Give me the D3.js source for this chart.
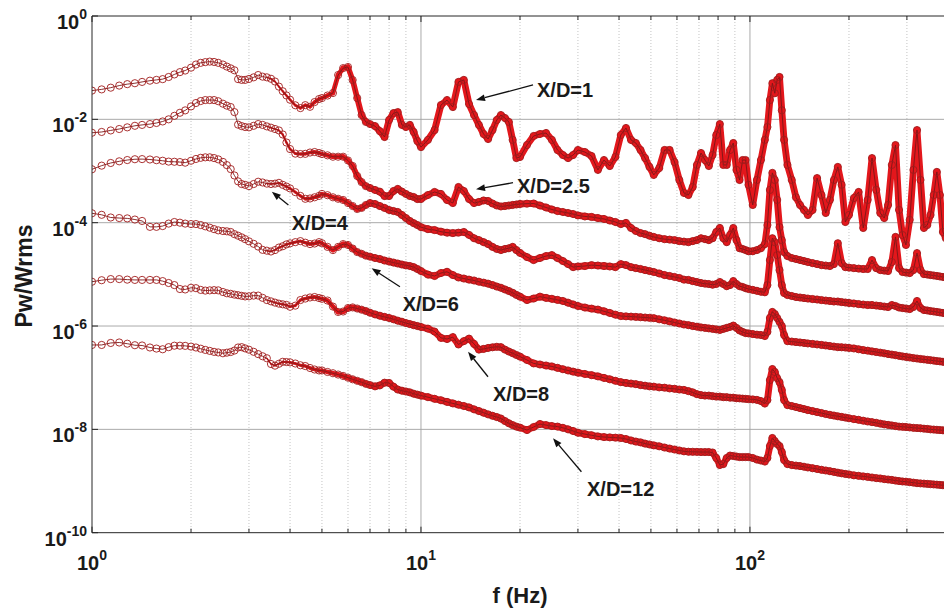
<!DOCTYPE html>
<html><head><meta charset="utf-8">
<script src="https://cdn.jsdelivr.net/npm/d3@7"></script>
<style>
body{margin:0;background:#fff}
svg{display:block}
text{font-family:"Liberation Sans",Arial,Helvetica,sans-serif;font-weight:bold;fill:#1a1a1a}
</style>
</head><body>
<svg id="chart" width="944" height="610"></svg>
<script>
// ---------------- data ----------------
const freq = [
1.00,1.07,1.14,1.21,1.28,1.35,1.42,1.50,1.57,1.64,1.71,1.78,1.85,1.92,2.00,2.07,2.14,2.21,2.28,2.35,2.42,2.50,2.57,2.64,2.71,2.78,2.85,2.92,3.00,
3.1,3.2,3.3,3.4,3.5,3.6,3.7,3.8,3.9,4.0,4.15,4.3,4.45,4.6,4.75,4.9,
5.0,5.2,5.4,5.6,5.8,6.0,6.2,6.4,6.6,6.8,7.0,7.25,7.5,7.75,8.0,8.25,8.5,8.75,9.0,9.25,9.5,9.75,
10,10.5,11,11.5,12,12.5,13,13.5,14,14.5,15,15.5,16,16.5,17,17.5,18,18.5,19,19.5,
20,21,22,23,24,25,26,27,28,29,30,31.5,33,34.5,36,37.5,39,40.5,42,43.5,45,46.5,48,49.5,
51,53,55,57,59,61,63,65,67,69,71,73,75,77,79,81,83,85,87,89,91,93,95,97,99,
102,105,108,111,113,115,117,119,121,123,125,127,130,134,138,142,146,150,155,160,165,170,175,180,185,190,195,
200,207,214,221,228,235,242,249,256,263,270,277,284,291,298,306,314,322,330,338,346,354,362,370,378,386,394];

const s1 = [
3.6e-2,3.8e-2,4.1e-2,4.5e-2,4.8e-2,5.0e-2,5.3e-2,5.6e-2,5.8e-2,6.0e-2,6.6e-2,7.4e-2,8.2e-2,8.8e-2,1.0e-1,1.15e-1,1.24e-1,1.28e-1,1.31e-1,1.29e-1,1.24e-1,1.15e-1,1.05e-1,9.7e-2,8.9e-2,6.0e-2,5.8e-2,5.8e-2,6.05e-2,
6.5e-2,7.2e-2,6.7e-2,6.5e-2,6.1e-2,5.4e-2,4.3e-2,3.5e-2,2.9e-2,2.4e-2,1.87e-2,1.65e-2,1.88e-2,1.75e-2,2.16e-2,2.47e-2,
2.58e-2,2.89e-2,3.23e-2,7.2e-2,9.8e-2,1.03e-1,5.76e-2,2.58e-2,1.21e-2,8.9e-3,8.1e-3,7.4e-3,5.9e-3,4.55e-3,9.7e-3,1.32e-2,1.38e-2,7.8e-3,7.1e-3,7.8e-3,5.7e-3,3.8e-3,
2.9e-3,4.0e-3,6.2e-3,1.89e-2,2.36e-2,1.73e-2,5.3e-2,5.8e-2,1.98e-2,1.21e-2,7.8e-3,5.2e-3,4.16e-3,6.2e-3,9.7e-3,1.21e-2,1.06e-2,8.9e-3,4.0e-3,1.78e-3,
1.87e-3,3.18e-3,4.76e-3,5.2e-3,5.44e-3,4.0e-3,2.55e-3,2.04e-3,1.78e-3,2.04e-3,2.55e-3,2.33e-3,1.95e-3,1.05e-3,1.63e-3,1.25e-3,1.87e-3,4.97e-3,6.8e-3,4.0e-3,3.48e-3,2.55e-3,1.78e-3,1.2e-3,
8.4e-4,1.14e-3,2.55e-3,2.55e-3,1.49e-3,6.7e-4,3.76e-4,3.43e-4,4.9e-4,1.31e-3,2.23e-3,1.63e-3,1.25e-3,2.04e-3,4.97e-3,8.1e-3,1.31e-3,1.31e-3,2.55e-3,3.48e-3,1.05e-3,6.7e-4,1.63e-3,1.63e-3,5.4e-4,
2.2e-4,6.7e-4,1.63e-3,4.0e-3,7.1e-3,2.36e-2,5.0e-2,3.2e-2,5.8e-2,6.6e-2,1.5e-2,4.0e-3,1.31e-3,6.7e-4,3.1e-4,2.2e-4,1.76e-4,1.41e-4,1.76e-4,7.3e-4,3.43e-4,1.54e-4,2.75e-4,6.7e-4,1.2e-3,5.4e-4,1.03e-4,
1.41e-4,3.0e-4,3.93e-4,7.9e-5,2.75e-4,1.78e-3,4.3e-4,1.54e-4,1.23e-4,2.2e-4,1.31e-3,3.18e-3,1.76e-4,5.76e-5,3.7e-5,1.13e-4,1.05e-3,6.2e-3,6.7e-4,7.9e-5,9.0e-5,1.41e-4,3.43e-4,9.6e-4,3.43e-4,6.6e-5,5.0e-5];

const s25 = [
5.5e-3,5.7e-3,6.1e-3,6.5e-3,7.0e-3,7.5e-3,7.8e-3,8.1e-3,8.5e-3,9.1e-3,1.0e-2,1.17e-2,1.34e-2,1.49e-2,1.78e-2,2.07e-2,2.26e-2,2.36e-2,2.36e-2,2.36e-2,2.24e-2,2.01e-2,1.84e-2,1.73e-2,1.38e-2,7.9e-3,7.4e-3,7.1e-3,7.0e-3,
7.5e-3,8.1e-3,7.8e-3,7.3e-3,6.9e-3,6.5e-3,6.1e-3,5.1e-3,3.56e-3,2.66e-3,2.17e-3,2.13e-3,2.15e-3,2.28e-3,2.33e-3,2.23e-3,
2.13e-3,2.01e-3,1.89e-3,1.89e-3,1.89e-3,1.6e-3,1.25e-3,8.0e-4,6.1e-4,5.1e-4,4.7e-4,4.3e-4,3.98e-4,3.28e-4,3.28e-4,4.1e-4,4.5e-4,4.0e-4,3.6e-4,3.28e-4,3.14e-4,2.87e-4,
2.87e-4,3.43e-4,3.93e-4,3.6e-4,2.75e-4,2.4e-4,4.9e-4,4.1e-4,2.87e-4,2.4e-4,2.52e-4,2.69e-4,2.63e-4,2.35e-4,2.15e-4,2.06e-4,2.1e-4,2.15e-4,2.2e-4,2.25e-4,
2.3e-4,2.33e-4,2.35e-4,2.15e-4,1.97e-4,1.8e-4,1.68e-4,1.61e-4,1.54e-4,1.47e-4,1.38e-4,1.32e-4,1.29e-4,1.23e-4,1.18e-4,1.1e-4,1.03e-4,9.4e-5,9.9e-5,7.9e-5,6.9e-5,6.3e-5,6.0e-5,5.6e-5,
5.3e-5,5.0e-5,4.8e-5,4.7e-5,4.6e-5,4.4e-5,4.3e-5,4.2e-5,4.4e-5,4.6e-5,5.0e-5,4.8e-5,4.6e-5,5.0e-5,6.6e-5,7.9e-5,5.0e-5,4.2e-5,5.8e-5,7.9e-5,4.6e-5,3.2e-5,3.1e-5,2.95e-5,2.8e-5,
2.8e-5,2.95e-5,3.2e-5,3.85e-5,9.0e-5,4.3e-4,9.2e-4,6.7e-4,2.75e-4,8.2e-5,4.6e-5,2.7e-5,2.26e-5,2.07e-5,1.98e-5,1.89e-5,1.81e-5,1.73e-5,1.65e-5,1.58e-5,1.51e-5,1.48e-5,1.45e-5,1.58e-5,4.0e-5,1.65e-5,1.38e-5,
1.35e-5,1.32e-5,1.29e-5,1.27e-5,1.27e-5,1.89e-5,1.32e-5,1.21e-5,1.18e-5,1.16e-5,1.73e-5,5.3e-5,1.32e-5,1.11e-5,1.08e-5,1.06e-5,1.21e-5,2.58e-5,1.21e-5,1.01e-5,9.9e-6,9.7e-6,9.5e-6,9.3e-6,9.1e-6,8.9e-6,8.7e-6];

const s4 = [
1.08e-3,1.27e-3,1.43e-3,1.54e-3,1.63e-3,1.69e-3,1.7e-3,1.67e-3,1.62e-3,1.58e-3,1.52e-3,1.51e-3,1.49e-3,1.45e-3,1.58e-3,1.71e-3,1.8e-3,1.84e-3,1.84e-3,1.78e-3,1.68e-3,1.5e-3,1.3e-3,1.09e-3,8.2e-4,6.3e-4,5.6e-4,5.4e-4,5.1e-4,
5.6e-4,6.2e-4,6.0e-4,5.7e-4,5.6e-4,5.7e-4,5.9e-4,5.4e-4,5.0e-4,4.6e-4,3.9e-4,3.3e-4,2.9e-4,2.94e-4,3.1e-4,3.3e-4,
3.6e-4,3.4e-4,3.1e-4,2.9e-4,2.75e-4,2.4e-4,2.1e-4,1.84e-4,1.93e-4,2.2e-4,2.4e-4,2.3e-4,2.1e-4,1.93e-4,1.76e-4,1.68e-4,1.61e-4,1.41e-4,1.23e-4,1.08e-4,9.8e-5,9.0e-5,
8.2e-5,7.5e-5,7.2e-5,6.7e-5,6.4e-5,6.3e-5,6.4e-5,6.6e-5,5.8e-5,5.0e-5,4.6e-5,4.2e-5,3.85e-5,3.4e-5,3.1e-5,2.95e-5,3.1e-5,3.2e-5,3.4e-5,2.95e-5,
2.6e-5,2.16e-5,1.89e-5,2.07e-5,2.26e-5,2.36e-5,2.07e-5,1.81e-5,1.58e-5,1.38e-5,1.42e-5,1.45e-5,1.51e-5,1.48e-5,1.45e-5,1.42e-5,1.38e-5,1.58e-5,1.51e-5,1.38e-5,1.32e-5,1.27e-5,1.21e-5,1.16e-5,
1.11e-5,1.04e-5,9.7e-6,9.3e-6,8.9e-6,8.5e-6,7.9e-6,7.8e-6,7.4e-6,7.1e-6,6.8e-6,6.6e-6,6.5e-6,6.3e-6,6.5e-6,7.1e-6,6.5e-6,5.9e-6,6.2e-6,7.4e-6,6.5e-6,5.9e-6,5.7e-6,5.4e-6,5.2e-6,
5.0e-6,4.8e-6,4.6e-6,4.5e-6,6.2e-6,1.89e-5,5.0e-5,4.2e-5,2.36e-5,1.21e-5,6.2e-6,4.35e-6,3.98e-6,3.81e-6,3.64e-6,3.56e-6,3.48e-6,3.4e-6,3.33e-6,3.26e-6,3.18e-6,3.11e-6,3.05e-6,2.98e-6,2.98e-6,2.91e-6,2.85e-6,
2.79e-6,2.73e-6,2.66e-6,2.6e-6,2.55e-6,2.55e-6,2.49e-6,2.44e-6,2.38e-6,2.33e-6,2.55e-6,2.44e-6,2.28e-6,2.23e-6,2.18e-6,2.13e-6,2.33e-6,3.05e-6,2.23e-6,2.04e-6,2.0e-6,1.95e-6,1.91e-6,1.87e-6,1.83e-6,1.79e-6,1.75e-6];

const s6 = [
1.52e-4,1.42e-4,1.26e-4,1.23e-4,1.21e-4,1.15e-4,1.08e-4,8.3e-5,8.3e-5,8.6e-5,9.6e-5,1.03e-4,1.0e-4,9.6e-5,9.4e-5,9.4e-5,9.0e-5,8.5e-5,8.0e-5,7.5e-5,7.1e-5,6.9e-5,6.8e-5,6.6e-5,6.0e-5,5.6e-5,5.2e-5,4.8e-5,4.35e-5,
3.9e-5,3.45e-5,2.98e-5,2.87e-5,2.77e-5,2.95e-5,3.3e-5,3.5e-5,3.8e-5,3.98e-5,4.2e-5,4.4e-5,4.1e-5,3.85e-5,3.95e-5,4.2e-5,
4.0e-5,3.4e-5,2.95e-5,3.4e-5,3.85e-5,3.7e-5,3.16e-5,2.7e-5,2.5e-5,2.3e-5,2.2e-5,2.07e-5,1.98e-5,1.85e-5,1.77e-5,1.69e-5,1.62e-5,1.55e-5,1.49e-5,1.45e-5,1.38e-5,1.27e-5,
1.16e-5,9.9e-6,9.3e-6,1.06e-5,1.12e-5,9.7e-6,8.7e-6,8.3e-6,7.9e-6,7.6e-6,7.2e-6,6.9e-6,6.6e-6,6.2e-6,5.8e-6,5.5e-6,5.1e-6,4.76e-6,4.4e-6,4.0e-6,
3.7e-6,3.18e-6,3.4e-6,3.7e-6,3.5e-6,3.36e-6,3.2e-6,3.05e-6,2.83e-6,2.62e-6,2.44e-6,2.28e-6,2.17e-6,2.08e-6,1.93e-6,1.79e-6,1.66e-6,1.56e-6,1.54e-6,1.52e-6,1.5e-6,1.48e-6,1.46e-6,1.44e-6,
1.42e-6,1.35e-6,1.29e-6,1.23e-6,1.17e-6,1.12e-6,1.07e-6,1.04e-6,1.0e-6,9.7e-7,9.4e-7,9.2e-7,9.0e-7,8.8e-7,8.6e-7,8.4e-7,8.8e-7,9.2e-7,9.6e-7,1.02e-6,9.2e-7,8.2e-7,7.7e-7,7.3e-7,7.2e-7,
7.0e-7,6.8e-7,6.7e-7,6.4e-7,7.7e-7,1.43e-6,1.87e-6,1.71e-6,1.43e-6,1.2e-6,1.0e-6,6.7e-7,5.1e-7,5.0e-7,4.9e-7,4.8e-7,4.7e-7,4.6e-7,4.5e-7,4.4e-7,4.3e-7,4.2e-7,4.1e-7,4.0e-7,3.9e-7,3.88e-7,3.83e-7,
3.76e-7,3.68e-7,3.55e-7,3.43e-7,3.33e-7,3.23e-7,3.14e-7,3.05e-7,2.97e-7,2.87e-7,2.8e-7,2.73e-7,2.65e-7,2.58e-7,2.52e-7,2.46e-7,2.4e-7,2.35e-7,2.3e-7,2.26e-7,2.22e-7,2.18e-7,2.14e-7,2.1e-7,2.07e-7,2.03e-7,2.0e-7];

const s8 = [
7.2e-6,7.7e-6,8.1e-6,8.1e-6,7.9e-6,7.8e-6,7.8e-6,7.8e-6,7.8e-6,7.4e-6,6.8e-6,6.2e-6,5.2e-6,5.1e-6,5.5e-6,5.4e-6,5.0e-6,4.85e-6,4.9e-6,4.95e-6,4.9e-6,4.55e-6,4.3e-6,4.2e-6,4.05e-6,3.95e-6,3.84e-6,3.74e-6,3.76e-6,
3.88e-6,3.88e-6,3.51e-6,3.18e-6,3.0e-6,2.84e-6,2.71e-6,2.63e-6,2.56e-6,2.36e-6,2.48e-6,3.18e-6,3.4e-6,3.57e-6,3.64e-6,3.48e-6,
3.36e-6,3.11e-6,2.38e-6,1.87e-6,1.91e-6,2.23e-6,2.29e-6,2.18e-6,2.07e-6,1.95e-6,1.81e-6,1.68e-6,1.58e-6,1.5e-6,1.43e-6,1.35e-6,1.27e-6,1.21e-6,1.14e-6,1.09e-6,1.04e-6,1.0e-6,
9.6e-7,8.9e-7,7.8e-7,5.9e-7,5.6e-7,6.1e-7,4.4e-7,5.1e-7,5.7e-7,4.5e-7,3.5e-7,3.6e-7,3.76e-7,3.88e-7,3.96e-7,3.9e-7,3.5e-7,3.21e-7,2.98e-7,2.75e-7,
2.56e-7,2.2e-7,1.89e-7,1.8e-7,1.72e-7,1.65e-7,1.55e-7,1.46e-7,1.38e-7,1.31e-7,1.25e-7,1.18e-7,1.12e-7,1.06e-7,9.9e-8,9.3e-8,8.7e-8,8.2e-8,7.9e-8,7.7e-8,7.5e-8,7.2e-8,7.0e-8,6.8e-8,
6.7e-8,6.5e-8,6.4e-8,6.2e-8,6.1e-8,5.9e-8,5.8e-8,5.5e-8,5.2e-8,4.8e-8,4.6e-8,4.5e-8,4.5e-8,4.4e-8,4.3e-8,4.3e-8,4.2e-8,4.2e-8,4.1e-8,4.1e-8,4.0e-8,3.98e-8,3.93e-8,3.89e-8,3.85e-8,
3.8e-8,3.72e-8,3.53e-8,3.16e-8,3.69e-8,9.0e-8,1.47e-7,1.29e-7,9.8e-8,8.2e-8,5.8e-8,3.69e-8,2.95e-8,2.83e-8,2.7e-8,2.58e-8,2.47e-8,2.36e-8,2.26e-8,2.16e-8,2.07e-8,1.98e-8,1.91e-8,1.85e-8,1.79e-8,1.74e-8,1.69e-8,
1.64e-8,1.58e-8,1.53e-8,1.47e-8,1.42e-8,1.38e-8,1.34e-8,1.29e-8,1.25e-8,1.22e-8,1.19e-8,1.16e-8,1.13e-8,1.12e-8,1.11e-8,1.09e-8,1.07e-8,1.06e-8,1.05e-8,1.03e-8,1.02e-8,1.0e-8,9.9e-9,9.8e-9,9.7e-9,9.6e-9,9.4e-9];

const s12 = [
4.3e-7,4.3e-7,4.7e-7,4.8e-7,4.55e-7,4.25e-7,4.2e-7,3.84e-7,3.66e-7,3.55e-7,3.9e-7,4.16e-7,4.16e-7,4.13e-7,4.0e-7,3.84e-7,3.64e-7,3.45e-7,3.3e-7,3.16e-7,3.08e-7,2.97e-7,3.05e-7,3.14e-7,3.35e-7,3.84e-7,3.9e-7,3.69e-7,3.48e-7,
3.17e-7,2.86e-7,2.6e-7,2.38e-7,1.84e-7,1.71e-7,1.86e-7,2.03e-7,2.01e-7,1.98e-7,1.88e-7,1.74e-7,1.68e-7,1.54e-7,1.44e-7,1.38e-7,
1.38e-7,1.29e-7,1.22e-7,1.15e-7,1.08e-7,1.0e-7,9.3e-8,8.7e-8,8.2e-8,7.6e-8,7.2e-8,6.8e-8,7.1e-8,8.0e-8,7.9e-8,6.7e-8,5.9e-8,5.6e-8,5.4e-8,5.2e-8,4.9e-8,4.7e-8,
4.5e-8,4.2e-8,3.9e-8,3.66e-8,3.4e-8,3.18e-8,3.0e-8,2.83e-8,2.66e-8,2.44e-8,2.26e-8,2.1e-8,1.95e-8,1.83e-8,1.73e-8,1.62e-8,1.45e-8,1.31e-8,1.21e-8,1.13e-8,
1.08e-8,9.7e-9,1.11e-8,1.27e-8,1.21e-8,1.16e-8,1.13e-8,1.07e-8,1.0e-8,9.3e-9,8.6e-9,8.1e-9,7.7e-9,7.3e-9,7.1e-9,7.0e-9,6.9e-9,6.8e-9,6.5e-9,6.1e-9,5.8e-9,5.6e-9,5.3e-9,5.1e-9,
4.9e-9,4.7e-9,4.45e-9,4.25e-9,4.07e-9,3.9e-9,3.76e-9,3.69e-9,3.68e-9,3.66e-9,3.64e-9,3.64e-9,3.64e-9,3.56e-9,2.79e-9,2.04e-9,2.13e-9,2.79e-9,3.11e-9,3.05e-9,2.98e-9,2.91e-9,2.91e-9,2.91e-9,2.91e-9,
2.79e-9,2.6e-9,2.49e-9,2.38e-9,2.79e-9,4.76e-9,6.8e-9,5.94e-9,5.2e-9,4.76e-9,3.64e-9,2.55e-9,2.13e-9,2.04e-9,1.99e-9,1.95e-9,1.89e-9,1.83e-9,1.77e-9,1.71e-9,1.65e-9,1.6e-9,1.55e-9,1.5e-9,1.45e-9,1.41e-9,1.37e-9,
1.34e-9,1.29e-9,1.26e-9,1.23e-9,1.2e-9,1.17e-9,1.14e-9,1.12e-9,1.09e-9,1.07e-9,1.05e-9,1.02e-9,1.0e-9,9.8e-10,9.7e-10,9.5e-10,9.3e-10,9.1e-10,9.0e-10,8.9e-10,8.8e-10,8.7e-10,8.6e-10,8.5e-10,8.4e-10,8.3e-10,8.2e-10];

const seriesNames  = ["X/D=1","X/D=2.5","X/D=4","X/D=6","X/D=8","X/D=12"];
const seriesValues = [s1, s25, s4, s6, s8, s12];

const xTickValues = [1, 10, 100];
const xTickExps   = ["0", "1", "2"];
const yTickValues = [1, 1e-2, 1e-4, 1e-6, 1e-8, 1e-10];
const yTickExps   = ["0", "-2", "-4", "-6", "-8", "-10"];

// arrow tips in data units (frequency, Pw/Wrms)
const annoLabels = ["X/D=1","X/D=2.5","X/D=4","X/D=6","X/D=8","X/D=12"];
const annoTipF   = [14.7, 14.7, 3.52, 7.08, 13.9, 25.2];
const annoTipV   = [2.37e-2, 4.43e-4, 3.98e-4, 1.31e-5, 3.18e-7, 6.71e-9];

// ---------------- layout ----------------
const L = 92, T = 16, R = 948, B = 532.7;
const annoTail  = [[57,-15],[37,-6.6],[16.6,13.3],[28.3,18.4],[20,25],[28.4,33.4]];
const annoText  = [[61,-3],[41,4],[20,38],[31,43],[25,49],[34,58]];

const svg = d3.select("#chart");
const x = d3.scaleLog().domain([1, 400]).range([L, R]);
const y = d3.scaleLog().domain([1e-10, 1]).range([B, T]);

svg.append("defs").append("clipPath").attr("id","plotclip")
  .append("rect").attr("x",L).attr("y",T).attr("width",R-L).attr("height",B-T);

// grid
const minorX = [];
[1,10,100].forEach(d => { for (let k=2;k<=9;k++){ const v=k*d; if (v<=400) minorX.push(v);} });
const gGrid = svg.append("g");
gGrid.selectAll("line.mx").data(minorX).join("line")
  .attr("x1",d=>x(d)).attr("x2",d=>x(d)).attr("y1",T).attr("y2",B)
  .attr("stroke","#b5b5b5").attr("stroke-width",0.8).attr("stroke-dasharray","1,2");
gGrid.selectAll("line.Mx").data([10,100]).join("line")
  .attr("x1",d=>x(d)).attr("x2",d=>x(d)).attr("y1",T).attr("y2",B)
  .attr("stroke","#a0a0a0").attr("stroke-width",0.9);
gGrid.selectAll("line.My").data([1e-2,1e-4,1e-6,1e-8]).join("line")
  .attr("x1",L).attr("x2",R).attr("y1",d=>y(d)).attr("y2",d=>y(d))
  .attr("stroke","#a0a0a0").attr("stroke-width",0.9);

// band width grows where the FFT samples crowd together on the log axis
function bandWidth(f){
  const lo = Math.log10(3.4), hi = Math.log10(7.5), lf = Math.log10(f);
  if (lf <= lo) return 0;
  const t = Math.min(1, (lf-lo)/(hi-lo));
  return 1.2 + t*5.6;
}

// series
const gData = svg.append("g").attr("clip-path","url(#plotclip)");
const line = d3.line().x(d=>x(d.f)).y(d=>y(d.v));
seriesValues.forEach((vals, si) => {
  const n = Math.min(freq.length, vals.length);
  const pts = [];
  for (let i=0;i<n;i++) pts.push({f:freq[i], v:vals[i]});
  const g = gData.append("g").attr("class","series").attr("data-name",seriesNames[si]);
  const segs = d3.pairs(pts).filter(p => bandWidth(p[1].f) > 0);
  g.selectAll("line.band").data(segs).join("line").attr("class","band")
    .attr("x1",p=>x(p[0].f)).attr("y1",p=>y(p[0].v))
    .attr("x2",p=>x(p[1].f)).attr("y2",p=>y(p[1].v))
    .attr("stroke","#e3171c").attr("stroke-linecap","round")
    .attr("stroke-width",p=>bandWidth(p[1].f));
  g.append("path").attr("d", line(pts)).attr("fill","none")
    .attr("stroke","#7a1717").attr("stroke-width",0.9);
  g.selectAll("circle").data(pts).join("circle")
    .attr("cx",d=>x(d.f)).attr("cy",d=>y(d.v)).attr("r",3.6)
    .attr("fill","none").attr("stroke","#a01c1c").attr("stroke-width",0.9);
});

// frame
const gAx = svg.append("g").attr("stroke","#262626").attr("stroke-width",1);
gAx.append("line").attr("x1",L).attr("x2",L).attr("y1",T).attr("y2",B);
gAx.append("line").attr("x1",L).attr("x2",R).attr("y1",B).attr("y2",B);
gAx.append("line").attr("x1",L).attr("x2",R).attr("y1",T).attr("y2",T);
// ticks
const allX = minorX.concat([1,10,100]);
allX.forEach(v => {
  const len = [1,10,100].includes(v) ? 6 : 4;
  gAx.append("line").attr("x1",x(v)).attr("x2",x(v)).attr("y1",B).attr("y2",B-len);
  gAx.append("line").attr("x1",x(v)).attr("x2",x(v)).attr("y1",T).attr("y2",T+len);
});
yTickValues.forEach(v => {
  gAx.append("line").attr("x1",L).attr("x2",L+6).attr("y1",y(v)).attr("y2",y(v));
});

// tick labels
yTickValues.forEach((v,i) => {
  const t = svg.append("text").attr("x",87).attr("y",y(v)+13).attr("text-anchor","end").attr("font-size",20);
  t.append("tspan").text("10");
  t.append("tspan").attr("dy",-10).attr("font-size",14).text(yTickExps[i]);
});
xTickValues.forEach((v,i) => {
  const t = svg.append("text").attr("x",x(v)).attr("y",570).attr("text-anchor","middle").attr("font-size",20);
  t.append("tspan").text("10");
  t.append("tspan").attr("dy",-10).attr("font-size",14).text(xTickExps[i]);
});

// axis titles
svg.append("text").attr("x",520).attr("y",603).attr("text-anchor","middle").attr("font-size",22).text("f (Hz)");
svg.append("text").attr("transform","translate(32,276) rotate(-90)").attr("text-anchor","middle")
  .attr("font-size",23).text("Pw/Wrms");

// annotations
const gAn = svg.append("g");
annoLabels.forEach((lab,i) => {
  const tx = x(annoTipF[i]), ty = y(annoTipV[i]);
  const sx = tx + annoTail[i][0], sy = ty + annoTail[i][1];
  const ang = Math.atan2(ty-sy, tx-sx);
  const hl = 9, hw = 3.4;
  const bx = tx - hl*Math.cos(ang), by = ty - hl*Math.sin(ang);
  gAn.append("line").attr("x1",sx).attr("y1",sy).attr("x2",bx).attr("y2",by)
    .attr("stroke","#111").attr("stroke-width",1.3);
  const p1 = [bx + hw*Math.sin(ang), by - hw*Math.cos(ang)];
  const p2 = [bx - hw*Math.sin(ang), by + hw*Math.cos(ang)];
  gAn.append("path").attr("d",`M${tx},${ty}L${p1[0]},${p1[1]}L${p2[0]},${p2[1]}Z`).attr("fill","#111");
  gAn.append("text").attr("x",tx+annoText[i][0]).attr("y",ty+annoText[i][1])
    .attr("font-size",20).text(lab);
});
</script>
</body></html>
